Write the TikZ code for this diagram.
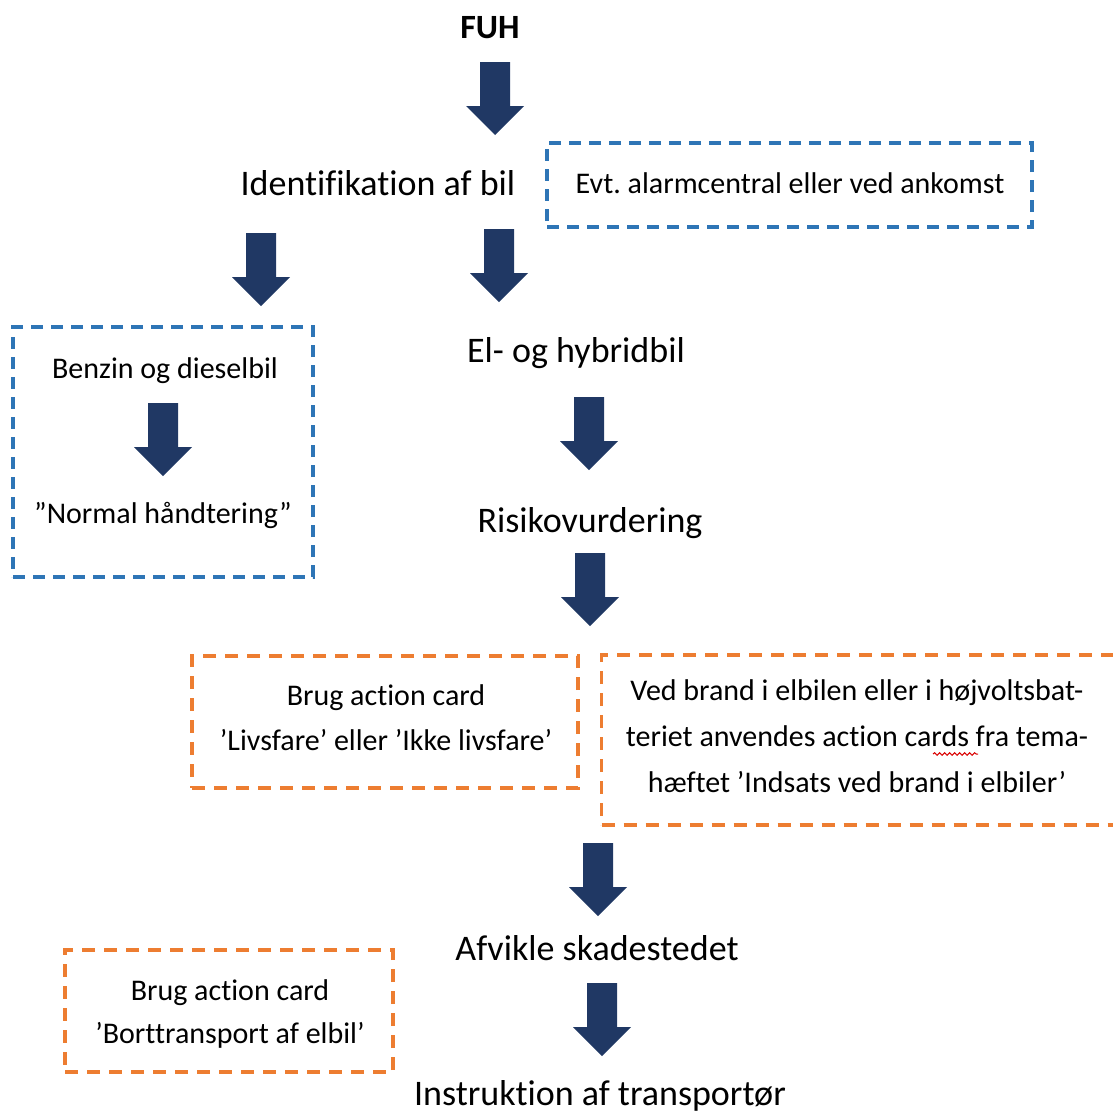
\documentclass[tikz,border=0pt]{standalone}
\usepackage{fontspec}
\setmainfont{Carlito}[Ligatures=NoCommon]
\frenchspacing
\usetikzlibrary{decorations.pathmorphing}

\definecolor{navy}{HTML}{203864}
\definecolor{boxblue}{HTML}{2E75B6}
\definecolor{boxorange}{HTML}{ED7D31}

\tikzset{
  pics/downarrow/.style={code={
    \fill[navy] (-15,0) -- (15,0) -- (15,44) -- (29,44) -- (0,73)
      -- (-29,44) -- (-15,44) -- cycle;
  }},
}

\begin{document}
\begin{tikzpicture}[x=1pt, y=-1pt,
    step label/.style={font=\fontsize{36}{43}\selectfont, anchor=base, inner sep=0pt},
    box text/.style={font=\fontsize{30}{36}\selectfont, anchor=base, inner sep=0pt},
    bluebox/.style={draw=boxblue, line width=3.2pt, dash pattern=on 12pt off 8pt, inner sep=0pt},
    orangebox/.style={draw=boxorange, line width=3.2pt, dash pattern=on 13pt off 9pt, inner sep=0pt}]
  \useasboundingbox (0,0) rectangle (1113,1112);

  % main column
  \node[step label, font=\fontsize{34}{40}\selectfont\bfseries] (fuh) at (490,38) {FUH};
  \pic at (495,62) {downarrow};
  \node[step label] (ident) at (378,195) {Identifikation af bil};
  \pic at (261,233) {downarrow};
  \pic at (499,229) {downarrow};
  \node[step label] (hybrid) at (576,362) {El- og hybridbil};
  \pic at (589,397) {downarrow};
  \node[step label] (risiko) at (590,532) {Risikovurdering};
  \pic at (590,553) {downarrow};
  \pic at (598,843) {downarrow};
  \node[step label] (afvikle) at (597,960) {Afvikle skadestedet};
  \pic at (602,983) {downarrow};
  \node[step label] (instruks) at (600,1105) {Instruktion af transportør};

  % blue boxes
  \node[bluebox, minimum width=485, minimum height=84] (alarm) at (789.5,185) {};
  \node[box text] (alarmtxt) at (790,193) {Evt. alarmcentral eller ved ankomst};

  \node[bluebox, minimum width=300, minimum height=250] (benzin) at (163,452) {};
  \node[box text] (benzintxt) at (165,378) {Benzin og dieselbil};
  \pic at (163,403) {downarrow};
  \node[box text] (normal) at (163,523) {”Normal håndtering”};

  % orange boxes
  \node[orangebox, minimum width=386, minimum height=132] (livsfare) at (385,722) {};
  \node[box text] (livs1) at (386,705) {Brug action card};
  \node[box text] (livs2) at (386,750) {’Livsfare’ eller ’Ikke livsfare’};

  \node[orangebox, minimum width=523, minimum height=170] (brand) at (863,740) {};
  \node[box text] (brand1) at (857,700) {Ved brand i elbilen eller i højvoltsbat-};
  \node[box text] (brand2) at (857,746) {teriet anvendes action cards fra tema-};
  \node[box text] (brand3) at (857,792) {hæftet ’Indsats ved brand i elbiler’};
  \draw[red!85!black, line width=1pt, decorate,
    decoration={snake, amplitude=1.3pt, segment length=5pt}] (933,754) -- (978,754);

  \node[orangebox, minimum width=328, minimum height=122] (bort) at (229,1011) {};
  \node[box text] (bort1) at (230,1000) {Brug action card};
  \node[box text] (bort2) at (230,1043) {’Borttransport af elbil’};
\end{tikzpicture}
\end{document}
